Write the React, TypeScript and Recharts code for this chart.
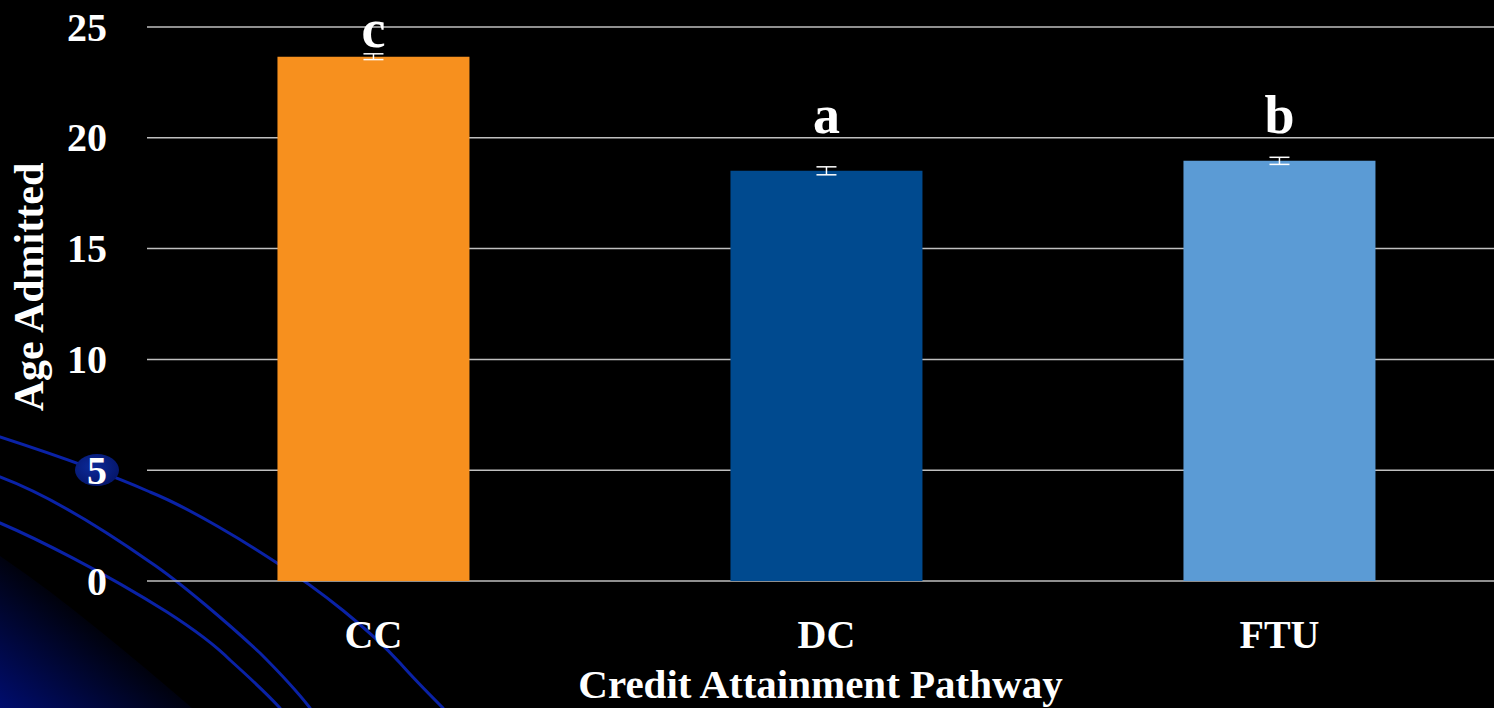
import React from "react"
import { BarChart, Bar, XAxis, YAxis, CartesianGrid, Cell, ErrorBar, LabelList } from "recharts"

const pathways = ["CC", "DC", "FTU"]
const meanAge = [23.66, 18.51, 18.96]
const stdErr = [0.13, 0.18, 0.16]
const groupLetters = ["c", "a", "b"]
const yTicks = [0, 5, 10, 15, 20, 25]

const barColors = ["#F7901E", "#004A8F", "#5B9BD5"]
const FONT = "'Liberation Serif', 'Times New Roman', serif"

// how far each significance letter sits above its bar top (px)
const letterLift: Record<string, number> = { CC: 10, DC: 38, FTU: 28 }

const data = pathways.map((p, i) => ({
  pathway: p,
  age: meanAge[i],
  err: stdErr[i],
  letter: groupLetters[i],
}))

const YTick = (props: any) => {
  const { x, y, payload } = props
  return (
    <text x={x - 38} y={y + 13.5} textAnchor="end" fill="#fff" fontFamily={FONT} fontWeight="bold" fontSize={40}>
      {payload.value}
    </text>
  )
}

const XTick = (props: any) => {
  const { x, y, payload } = props
  return (
    <text x={x} y={y + 65} textAnchor="middle" fill="#fff" fontFamily={FONT} fontWeight="bold" fontSize={40}>
      {payload.value}
    </text>
  )
}

const renderLetter = (props: any) => {
  const { x, y, width, value, index } = props
  const lift = letterLift[pathways[index]] ?? 10
  return (
    <text x={x + width / 2} y={y - lift} textAnchor="middle" fill="#fff" fontFamily={FONT} fontWeight="bold" fontSize={54}>
      {value}
    </text>
  )
}

// slide backdrop: swooping blue lines and a glow in the lower-left corner
const Backdrop = () => (
  <svg width={1494} height={708} style={{ position: "absolute", left: 0, top: 0 }}>
    <defs>
      <linearGradient id="cornerGlow" gradientUnits="userSpaceOnUse" x1={0} y1={708} x2={85} y2={600}>
        <stop offset="0%" stopColor="#000d6e" />
        <stop offset="100%" stopColor="#000000" />
      </linearGradient>
      <radialGradient id="bullet" cx="0.4" cy="0.4" r="0.7">
        <stop offset="0%" stopColor="#0c2a9a" />
        <stop offset="100%" stopColor="#041466" />
      </radialGradient>
    </defs>
    <path d="M0,556 C65,600 130,655 192,708 L0,708 Z" fill="url(#cornerGlow)" />
    <g fill="none" stroke="#0a22a6" strokeWidth={3} strokeLinecap="round" strokeLinejoin="round">
      <path d="M0,437 C40,450 100,470 150,492 C190,508 250,545 277,563 C320,590 370,630 400,663 C415,680 430,695 443,708" />
      <path d="M0,477 C40,492 90,520 150,562 C180,582 230,625 260,653 C280,673 300,695 310,708" />
      <path d="M0,523 C35,538 100,570 167,612 C195,630 215,645 230,660 C250,678 268,695 280,708" />
    </g>
    <ellipse cx={97} cy={470} rx={22} ry={16} fill="url(#bullet)" />
  </svg>
)

export default function App() {
  return (
    <div style={{ position: "fixed", left: 0, top: 0, width: 1494, height: 708, overflow: "hidden", background: "#000" }}>
      <Backdrop />
      <div style={{ position: "absolute", left: 0, top: 0 }}>
        <BarChart
          width={1506}
          height={708}
          data={data}
          margin={{ top: 27, right: 0, bottom: 0, left: 0 }}
          barCategoryGap="28.8%"
        >
          <CartesianGrid vertical={false} stroke="#bfbfbf" strokeWidth={1.5} />
          <XAxis
            dataKey="pathway"
            axisLine={false}
            tickLine={false}
            tickSize={0}
            height={127}
            tick={<XTick />}
            interval={0}
            label={{
              content: (p: any) => {
                const vb = p.viewBox
                return (
                  <text x={vb.x + vb.width / 2 - 6} y={vb.y + 117} textAnchor="middle" fill="#fff" fontFamily={FONT} fontWeight="bold" fontSize={41}>
                    Credit Attainment Pathway
                  </text>
                )
              },
            }}
          />
          <YAxis
            domain={[0, 25]}
            ticks={yTicks}
            width={147}
            axisLine={false}
            tickLine={false}
            tickSize={0}
            tick={<YTick />}
            label={{
              content: () => (
                <text x={43} y={287} transform="rotate(-90 43 287)" textAnchor="middle" fill="#fff" fontFamily={FONT} fontWeight="bold" fontSize={42}>
                  Age Admitted
                </text>
              ),
            }}
          />
          <Bar dataKey="age" isAnimationActive={false}>
            {data.map((d, i) => (
              <Cell key={d.pathway} fill={barColors[i]} />
            ))}
            <ErrorBar dataKey="err" width={10} stroke="#fff" strokeWidth={1.5} direction="y" />
            <LabelList dataKey="letter" content={renderLetter} />
          </Bar>
        </BarChart>
      </div>
    </div>
  )
}
